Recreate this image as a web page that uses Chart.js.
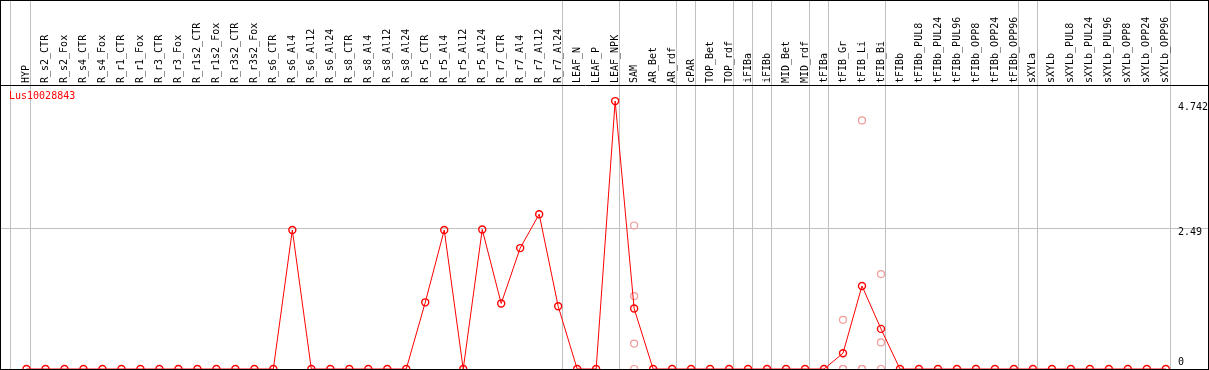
<!DOCTYPE html>
<html>
<head>
<meta charset="utf-8">
<script src="https://cdn.jsdelivr.net/npm/chart.js@4/dist/chart.umd.min.js"></script>
<style>
  html, body { margin: 0; padding: 0; background: #fff; }
  #wrap { position: absolute; left: 0; top: 0; width: 1209px; height: 370px; box-sizing: border-box; border: 1px solid #000; }
  canvas { display: block; }
</style>
</head>
<body>
<div id="wrap"><canvas id="chart" width="1207" height="368"></canvas></div>
<script>
var geneName = 'Lus10028843';

var categories = [
  'HYP', 'R_s2_CTR', 'R_s2_Fox', 'R_s4_CTR', 'R_s4_Fox', 'R_r1_CTR', 'R_r1_Fox', 'R_r3_CTR', 'R_r3_Fox',
  'R_r1s2_CTR', 'R_r1s2_Fox', 'R_r3s2_CTR', 'R_r3s2_Fox', 'R_s6_CTR', 'R_s6_Al4', 'R_s6_Al12', 'R_s6_Al24',
  'R_s8_CTR', 'R_s8_Al4', 'R_s8_Al12', 'R_s8_Al24', 'R_r5_CTR', 'R_r5_Al4', 'R_r5_Al12', 'R_r5_Al24',
  'R_r7_CTR', 'R_r7_Al4', 'R_r7_Al12', 'R_r7_Al24', 'LEAF_N', 'LEAF_P', 'LEAF_NPK', 'SAM', 'AR_Bet', 'AR_rdf',
  'cPAR', 'TOP_Bet', 'TOP_rdf', 'iFIBa', 'iFIBb', 'MID_Bet', 'MID_rdf', 'tFIBa', 'tFIB_Gr', 'tFIB_Li', 'tFIB_Bi',
  'tFIBb', 'tFIBb_PUL8', 'tFIBb_PUL24', 'tFIBb_PUL96', 'tFIBb_OPP8', 'tFIBb_OPP24', 'tFIBb_OPP96',
  'sXYLa', 'sXYLb', 'sXYLb_PUL8', 'sXYLb_PUL24', 'sXYLb_PUL96', 'sXYLb_OPP8', 'sXYLb_OPP24', 'sXYLb_OPP96'
];

// mean expression per sample
var meanValues = [
  0, 0, 0, 0, 0, 0, 0, 0, 0, 0,
  0, 0, 0, 0, 2.46, 0, 0, 0, 0, 0,
  0, 1.18, 2.46, 0, 2.47, 1.16, 2.14, 2.74, 1.11, 0,
  0, 4.742, 1.07, 0, 0, 0, 0, 0, 0, 0,
  0, 0, 0, 0.28, 1.47, 0.71, 0, 0, 0, 0,
  0, 0, 0, 0, 0, 0, 0, 0, 0, 0,
  0
];

// individual replicates (sample index + value)
var repIndex = [32, 32, 32, 32, 43, 43, 43, 44, 44, 44, 45, 45, 45];
var repValues = [2.54, 1.29, 0.45, 0, 0.87, 0, 0, 4.40, 0, 0, 1.68, 0.47, 0];

// vertical separators between sample groups (in sample index units)
var groupEdges = [-0.853, 0.22, 28.22, 31.22, 34.22, 35.22, 37.22, 38.22, 39.22, 41.22, 42.22, 45.22, 52.22, 53.22, 60.22];

var yTickValues = [0, 2.49, 4.742];
var yTickLabels = ['0', '2.49', '4.742'];
var yTop = 4.742 * 1.06;

var X_MIN = -1.3421, X_MAX = 60.22;
var MONO = 'DejaVu Sans Mono';

var cornerTitle = {
  id: 'cornerTitle',
  afterDatasetsDraw: function (chart) {
    var ctx = chart.ctx, a = chart.chartArea;
    ctx.save();
    ctx.font = '10px "' + MONO + '"';
    ctx.fillStyle = '#ff0000';
    ctx.textBaseline = 'alphabetic';
    ctx.fillText(chart.data.datasets[0].label, a.left + 8, a.top + 14);
    ctx.restore();
  }
};

new Chart(document.getElementById('chart'), {
  type: 'line',
  data: {
    datasets: [{
      label: geneName,
      data: meanValues.map(function (v, i) { return { x: i, y: v }; }),
      borderColor: '#ff0000',
      borderWidth: 1,
      tension: 0,
      pointRadius: 3.5,
      pointBorderWidth: 1.4,
      pointBorderColor: '#ff0000',
      pointBackgroundColor: 'rgba(0,0,0,0)',
      clip: false
    }, {
      label: 'replicates',
      data: repIndex.map(function (c, i) { return { x: c, y: repValues[i] }; }),
      showLine: false,
      pointRadius: 3.5,
      pointBorderWidth: 1.2,
      pointBorderColor: '#f09a9a',
      pointBackgroundColor: 'rgba(0,0,0,0)',
      clip: false
    }]
  },
  options: {
    responsive: false,
    animation: false,
    layout: { padding: 0, autoPadding: false },
    plugins: { legend: { display: false }, tooltip: { enabled: false } },
    scales: {
      x: {
        type: 'linear', position: 'top', weight: 1, min: X_MIN, max: X_MAX, bounds: 'data',
        afterBuildTicks: function (s) { s.ticks = categories.map(function (c, i) { return { value: i }; }); },
        afterFit: function (s) { s.height = 84; s.paddingLeft = 0; s.paddingRight = 0; },
        grid: { display: false, drawTicks: false, tickLength: 0 },
        border: { display: false },
        ticks: {
          autoSkip: false, minRotation: 90, maxRotation: 90, padding: 2, labelOffset: 12,
          color: '#000', font: { family: MONO, size: 10 },
          callback: function (v) { return categories[v]; }
        }
      },
      x2: {
        type: 'linear', position: 'top', weight: 0, min: X_MIN, max: X_MAX, bounds: 'data',
        afterBuildTicks: function (s) { s.ticks = groupEdges.map(function (v) { return { value: v }; }); },
        afterFit: function (s) { s.height = 0; s.paddingLeft = 0; s.paddingRight = 0; },
        grid: { color: '#c0c0c0', tickLength: 84 },
        border: { display: false },
        ticks: { display: false }
      },
      y: {
        type: 'linear', position: 'right', min: 0, max: yTop,
        afterBuildTicks: function (s) {
          s.ticks = yTickValues.concat([yTop]).map(function (v) { return { value: v }; });
        },
        afterFit: function (s) { s.width = 38; s.paddingTop = 0; s.paddingBottom = 0; },
        border: { display: false },
        grid: {
          tickLength: 38,
          color: function (c) {
            if (!c.tick) return 'rgba(0,0,0,0)';
            if (c.tick.value === 2.49) return '#c0c0c0';
            if (c.tick.value === yTop) return '#000';
            return 'rgba(0,0,0,0)';
          }
        },
        ticks: {
          padding: -30, color: '#000',
          font: function (c) {
            var v = c.tick ? c.tick.value : 0;
            var lh = v === 4.742 ? '13px' : v === 2.49 ? '8px' : '14px';
            return { family: MONO, size: 10, lineHeight: lh };
          },
          callback: function (v) {
            var k = yTickValues.indexOf(v);
            if (k < 0) return '';
            return v === 0 ? [yTickLabels[k], ''] : ['', yTickLabels[k]];
          }
        }
      }
    }
  },
  plugins: [cornerTitle]
});
</script>
</body>
</html>
